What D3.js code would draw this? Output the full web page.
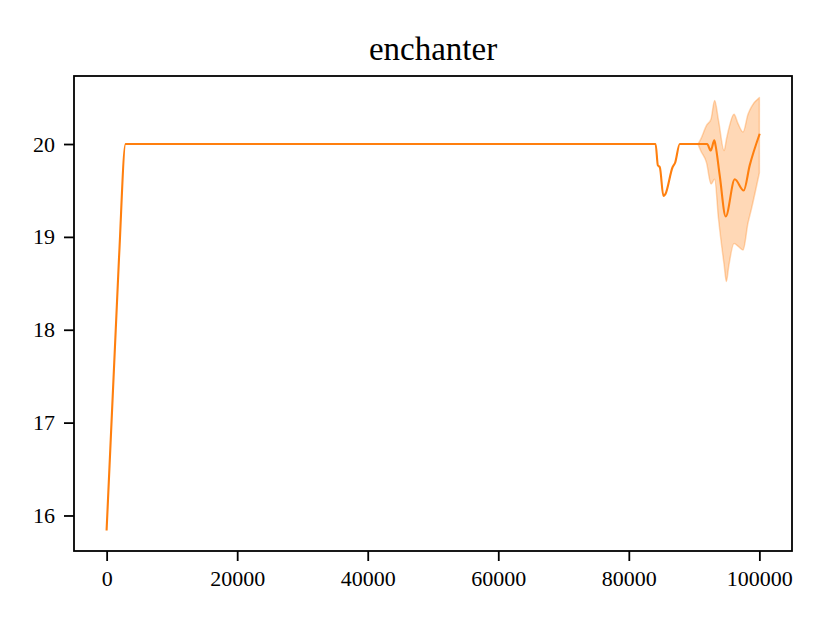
<!DOCTYPE html>
<html>
<head>
<meta charset="utf-8">
<script src="https://cdn.jsdelivr.net/npm/d3@7"></script>
<style>
  html, body { margin: 0; padding: 0; background: #fff; }
  svg { display: block; }
  text { font-family: "Liberation Serif", "Times New Roman", serif; fill: #000; }
</style>
</head>
<body>
<script>
// ---- data ----
const chartTitle = "enchanter";
const meanSteps = [0, 1900, 2900, 84100, 84450, 84750, 85300, 85600, 86700, 87100, 87800, 92000, 92550, 93100, 93300, 93930, 94850, 96230, 97600, 98520, 100000];
const meanValues = [15.85, 18.78, 20.0, 20.0, 19.77, 19.75, 19.44, 19.46, 19.75, 19.80, 20.0, 20.0, 19.93, 20.04, 19.98, 19.66, 19.22, 19.62, 19.50, 19.77, 20.1];
const bandSteps = [90600, 91000, 91900, 92600, 93150, 93750, 94600, 94950, 95300, 96120, 96730, 97500, 98260, 98780, 100000];
const bandUpper = [20.0, 20.05, 20.2, 20.27, 20.47, 20.25, 19.93, 20.05, 20.16, 20.32, 20.22, 20.13, 20.32, 20.4, 20.5];
const bandLower = [20.0, 19.93, 19.8, 19.57, 19.62, 19.19, 18.7, 18.52, 18.68, 18.93, 18.9, 18.86, 19.15, 19.3, 19.69];
const xTicks = [0, 20000, 40000, 60000, 80000, 100000];
const yTicks = [16, 17, 18, 19, 20];

// ---- layout ----
const W = 830, H = 623;
const m = { left: 74, right: 38, top: 76, bottom: 72 };
const iw = W - m.left - m.right, ih = H - m.top - m.bottom;
const color = "#ff7f0e";

const svg = d3.select("body").append("svg").attr("width", W).attr("height", H);
const g = svg.append("g").attr("transform", `translate(${m.left},${m.top})`);

const xMin = d3.min(meanSteps), xMax = d3.max(meanSteps);
const xPad = (xMax - xMin) * 0.05;
const x = d3.scaleLinear().domain([xMin - xPad, xMax + xPad]).range([0, iw]);

const allY = meanValues.concat(bandUpper, bandLower);
const yMin = d3.min(allY), yMax = d3.max(allY);
const yPad = (yMax - yMin) * 0.05;
const y = d3.scaleLinear().domain([yMin - yPad, yMax + yPad]).range([ih, 0]);

// band
const band = bandSteps.map((s, i) => ({ s, lo: bandLower[i], hi: bandUpper[i] }));
g.append("path")
  .datum(band)
  .attr("d", d3.area().curve(d3.curveMonotoneX).x(d => x(d.s)).y0(d => y(d.lo)).y1(d => y(d.hi)))
  .attr("fill", color).attr("fill-opacity", 0.3)
  .attr("stroke", color).attr("stroke-opacity", 0.3).attr("stroke-width", 1.5)
  .attr("stroke-linejoin", "round");

// mean line
const pts = meanSteps.map((s, i) => ({ s, v: meanValues[i] }));
g.append("path")
  .datum(pts)
  .attr("d", d3.line().curve(d3.curveMonotoneX).x(d => x(d.s)).y(d => y(d.v)))
  .attr("fill", "none").attr("stroke", color).attr("stroke-width", 2.1)
  .attr("stroke-linejoin", "round").attr("stroke-linecap", "square");

// axes
const xAxis = g.append("g").attr("transform", `translate(0,${ih})`)
  .call(d3.axisBottom(x).tickValues(xTicks).tickFormat(d3.format("d")).tickSize(10).tickPadding(8));
const yAxis = g.append("g")
  .call(d3.axisLeft(y).tickValues(yTicks).tickFormat(d3.format("d")).tickSize(10).tickPadding(9));
[xAxis, yAxis].forEach(a => {
  a.select(".domain").remove();
  a.selectAll(".tick line").attr("stroke", "#000").attr("stroke-width", 1.8);
  a.selectAll(".tick text").attr("font-size", 22).style("font-family", '"Liberation Serif", serif');
});
xAxis.selectAll(".tick text").attr("dy", "0.75em");

// frame
g.append("rect").attr("x", 0).attr("y", 0).attr("width", iw).attr("height", ih)
  .attr("fill", "none").attr("stroke", "#000").attr("stroke-width", 1.8);

// title
svg.append("text")
  .attr("x", m.left + iw / 2).attr("y", 60)
  .attr("text-anchor", "middle").attr("font-size", 33)
  .text(chartTitle);
</script>
</body>
</html>
